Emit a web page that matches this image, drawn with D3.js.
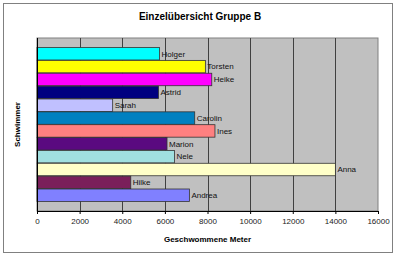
<!DOCTYPE html>
<html>
<head>
<meta charset="utf-8">
<script src="https://cdn.jsdelivr.net/npm/d3@7"></script>
<style>
  body { margin: 0; background: #fff; }
  text { font-family: "Liberation Sans", Arial, sans-serif; }
</style>
</head>
<body>
<div id="chart"></div>
<script>
// Data (top to bottom)
const names = ["Holger", "Torsten", "Heike", "Astrid", "Sarah", "Carolin", "Ines", "Marion", "Nele", "Anna", "Hilke", "Andrea"];
const meters = [5750, 7900, 8200, 5700, 3550, 7400, 8350, 6100, 6450, 14000, 4400, 7150];
const barColors = ["#00ffff", "#ffff00", "#ff00ff", "#000080", "#c0c0ff", "#0080c0", "#ff8080", "#5a0a80", "#a0e0e0", "#ffffc8", "#7a1f5a", "#8080ff"];
const xTicks = [0, 2000, 4000, 6000, 8000, 10000, 12000, 14000, 16000];

const W = 400, H = 257;
const plot = { left: 37, right: 378, top: 38, bottom: 211 };

const svg = d3.select("#chart").append("svg")
  .attr("width", W).attr("height", H);

// outer frame
svg.append("rect")
  .attr("x", 3.5).attr("y", 3.5)
  .attr("width", 389).attr("height", 249)
  .attr("fill", "#fff").attr("stroke", "#808080").attr("stroke-width", 1);

// title
svg.append("text")
  .attr("x", 200).attr("y", 20)
  .attr("text-anchor", "middle")
  .attr("font-size", 10).attr("font-weight", "bold")
  .text("Einzelübersicht Gruppe B");

//Scales
const xScale = d3.scaleLinear().domain([0, 16000]).range([plot.left, plot.right]);
const yScale = d3.scaleBand().domain(names).range([plot.top, plot.bottom])
  .paddingOuter(0.74).paddingInner(0.03);

// plot background
svg.append("rect")
  .attr("x", plot.left).attr("y", plot.top)
  .attr("width", plot.right - plot.left).attr("height", plot.bottom - plot.top)
  .attr("fill", "#c0c0c0").attr("stroke", "#808080");

// gridlines
svg.append("g").selectAll("line")
  .data(xTicks.slice(1, -1))
  .enter().append("line")
   .attr("x1", d => Math.round(xScale(d)) + 0.5)
   .attr("x2", d => Math.round(xScale(d)) + 0.5)
   .attr("y1", plot.top).attr("y2", plot.bottom)
   .attr("stroke", "#404040").attr("stroke-width", 1);

// bars
const rows = names.map((n, i) => ({ name: n, value: meters[i], color: barColors[i] }));
svg.append("g").selectAll("rect")
  .data(rows)
  .enter().append("rect")
   .attr("x", xScale(0))
   .attr("y", d => yScale(d.name))
   .attr("width", d => xScale(d.value) - xScale(0))
   .attr("height", yScale.bandwidth())
   .attr("fill", d => d.color)
   .attr("stroke", "#333").attr("stroke-width", 0.8);

// bar labels
svg.append("g").selectAll("text")
  .data(rows)
  .enter().append("text")
   .attr("x", d => xScale(d.value) + 2)
   .attr("y", d => yScale(d.name) + yScale.bandwidth() / 2)
   .attr("dy", "0.35em")
   .attr("font-size", 8).attr("fill", "#111")
   .text(d => d.name);

// x axis
const xAxis = d3.axisBottom(xScale).tickValues(xTicks).tickSize(3).tickFormat(d3.format("d"));
const gx = svg.append("g")
  .attr("transform", "translate(0," + plot.bottom + ")")
  .call(xAxis);
gx.select(".domain").attr("stroke", "#000");
gx.selectAll(".tick line").attr("stroke", "#000");
gx.selectAll(".tick text")
  .attr("font-size", 8).attr("fill", "#222")
  .attr("font-family", "Liberation Sans, Arial, sans-serif")
  .attr("dy", "0.9em");

// y axis line
svg.append("line")
  .attr("x1", plot.left + 0.5).attr("x2", plot.left + 0.5)
  .attr("y1", plot.top).attr("y2", plot.bottom)
  .attr("stroke", "#000");

// axis titles
svg.append("text")
  .attr("x", (plot.left + plot.right) / 2).attr("y", 242)
  .attr("text-anchor", "middle")
  .attr("font-size", 8).attr("font-weight", "bold")
  .text("Geschwommene Meter");

svg.append("text")
  .attr("transform", "translate(20," + ((plot.top + plot.bottom) / 2) + ") rotate(-90)")
  .attr("text-anchor", "middle")
  .attr("font-size", 8).attr("font-weight", "bold")
  .text("Schwimmer");
</script>
</body>
</html>
